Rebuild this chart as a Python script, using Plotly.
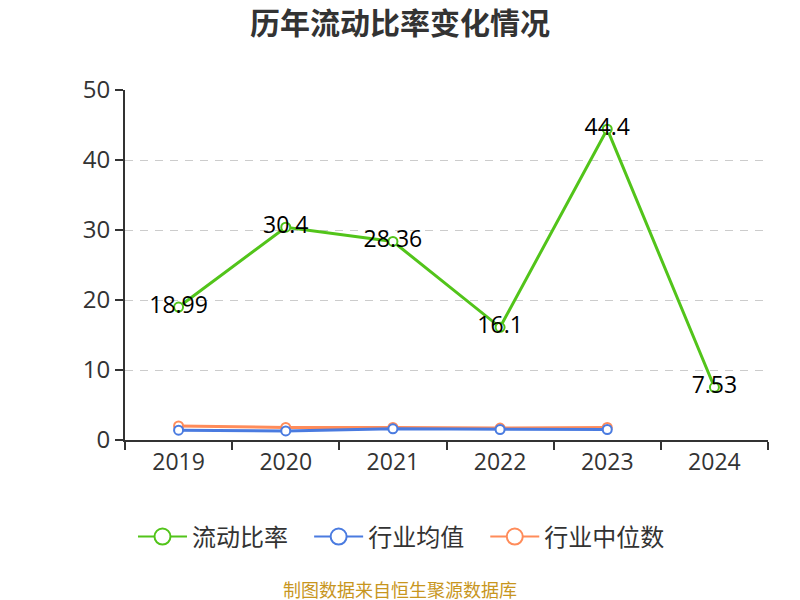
import plotly.graph_objects as go

years = ["2019", "2020", "2021", "2022", "2023", "2024"]
current_ratio = [18.99, 30.4, 28.36, 16.1, 44.4, 7.53]
current_labels = ["18.99", "30.4", "28.36", "16.1", "44.4", "7.53"]
ind_years = ["2019", "2020", "2021", "2022", "2023"]
industry_avg = [1.4, 1.3, 1.6, 1.5, 1.5]
industry_median = [2.0, 1.8, 1.8, 1.7, 1.8]
legend_names = ["流动比率", "行业均值", "行业中位数"]

FONT = "Open Sans, Noto Sans CJK SC, sans-serif"
CJK = "Noto Sans CJK SC, sans-serif"
GREEN = "#52C41A"
BLUE = "#4A7BE0"
ORANGE = "#FF8C5A"
PAD = "\u00a0\u00a0\u00a0"

fig = go.Figure()

def add_series(x, y, color):
    fig.add_trace(go.Scatter(
        x=x, y=y, mode="lines+markers", showlegend=False,
        line=dict(color=color, width=3),
        marker=dict(symbol="circle", size=9, color="white",
                    line=dict(color=color, width=2)),
        cliponaxis=False,
    ))

def add_legend(name, color):
    fig.add_trace(go.Scatter(
        x=[None], y=[None], name=name, mode="lines+markers",
        line=dict(color=color, width=2),
        marker=dict(symbol="circle", size=16, color="white",
                    line=dict(color=color, width=2)),
    ))

add_series(ind_years, industry_median, ORANGE)
add_series(ind_years, industry_avg, BLUE)
add_series(years, current_ratio, GREEN)

add_legend(legend_names[0] + PAD, GREEN)
add_legend(legend_names[1] + PAD, BLUE)
add_legend(legend_names[2], ORANGE)

fig.add_trace(go.Scatter(
    x=years, y=current_ratio, mode="text", text=current_labels,
    textposition="middle center", showlegend=False, hoverinfo="skip",
    textfont=dict(family=FONT, size=23, color="#000000"),
    cliponaxis=False,
))

fig.update_layout(
    width=800, height=600,
    paper_bgcolor="white", plot_bgcolor="white",
    margin=dict(l=117, r=40, t=82, b=168, autoexpand=False),
    title=dict(text="<b>历年流动比率变化情况</b>", x=0.49, xanchor="center",
               y=0.975, yanchor="middle",
               font=dict(family=CJK, size=30, color="#333333")),
    font=dict(family=FONT, color="#333333"),
    showlegend=True,
    legend=dict(orientation="h", x=0.43, xanchor="center",
                y=-0.277, yanchor="middle", itemwidth=49,
                font=dict(family=CJK, size=24, color="#333333"),
                traceorder="normal"),
    xaxis=dict(
        type="category", range=[-0.5, 5.5],
        categoryorder="array", categoryarray=years,
        showline=True, linecolor="#333333", linewidth=2,
        ticks="outside", ticklen=8, tickcolor="#333333", tickwidth=2,
        tickson="boundaries", tickangle=0,
        showgrid=False, zeroline=False,
        tickfont=dict(family=FONT, size=23, color="#333333"),
    ),
    yaxis=dict(
        range=[0, 50], dtick=10,
        showline=True, linecolor="#333333", linewidth=2,
        ticks="outside", ticklen=8, tickcolor="#333333", tickwidth=2,
        showgrid=True, gridcolor="#CCCCCC", griddash="8px,7px", gridwidth=1,
        zeroline=False,
        tickfont=dict(family=FONT, size=24, color="#333333"),
    ),
)

fig.add_annotation(
    text="制图数据来自恒生聚源数据库", xref="paper", yref="paper",
    x=0.4277, xanchor="center", y=-0.426, yanchor="middle", showarrow=False,
    font=dict(family=CJK, size=18, color="#C8961E"),
)

fig.write_html("out.html")
